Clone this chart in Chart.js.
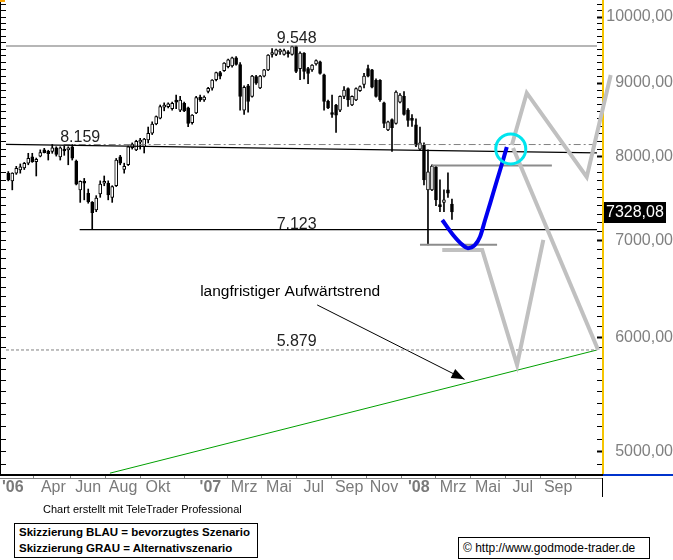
<!DOCTYPE html>
<html>
<head>
<meta charset="utf-8">
<script src="https://cdn.jsdelivr.net/npm/chart.js@4.4.1/dist/chart.umd.min.js"></script>
<style>
    html, body { margin: 0; padding: 0; background: #fff; }
    #wrap { position: relative; width: 673px; height: 560px; overflow: hidden; font-family: "Liberation Sans", Arial, sans-serif; }
    #chart { position: absolute; left: 0; top: 0; }
    .hinweis { position: absolute; font-size: 11px; color: #000; white-space: nowrap; }
    .kasten { position: absolute; border: 1px solid #000; background: #fff; white-space: nowrap; color: #000; }
</style>
</head>
<body>
<div id="wrap">
    <canvas id="chart" width="673" height="560"></canvas>
    <div class="hinweis" style="left:43px; top:503px;">Chart erstellt mit TeleTrader Professional</div>
    <div class="kasten" style="left:14px; top:523px; width:238px; height:33px; padding-left:4px; font-weight:bold; font-size:11.5px; line-height:16px;">Skizzierung BLAU = bevorzugtes Szenario<br>Skizzierung GRAU = Alternativszenario</div>
    <div class="kasten" style="left:458px; top:537px; width:186px; height:20px; padding-left:4px; font-size:12px; line-height:20px;">© http://www.godmode-trader.de</div>
</div>
<script>
// SMI Wochenkerzen, x = Tage seit 01.01.2006
const ersteWoche = 11;

const eroeffnung = [
    7795, 7700, 7795, 7835, 7860, 7920, 8000, 7940, 8010, 8090,
    8070, 8070, 8115, 8000, 8085, 8090, 8130, 7945, 7590, 7680,
    7549, 7440, 7350, 7540, 7670, 7670, 7500, 7640, 8000, 7840,
    7900, 8120, 8090, 8190, 8131, 8219, 8307, 8431, 8510, 8660,
    8667, 8640, 8740, 8620, 8715, 8650, 8450, 8580, 8800, 8760,
    8880, 8926, 9050, 9150, 9180, 9240, 9250, 9370, 9270, 8620,
    8960, 8810, 9095, 8930, 9100, 9190, 9420, 9420, 9460, 9420,
    9440, 9420, 9540, 9210, 9440, 9210, 9190, 9280, 9310, 9120,
    8740, 8570, 8690, 8620, 8810, 8920, 8690, 8760, 8890, 8980,
    9210, 9190, 9040, 9040, 8720, 8350, 8490, 8440, 8730, 8810,
    8620, 8490, 8420, 8100, 8150, 7590, 7590, 7870, 7400, 7440,
    7590, 7420
];
const hoch = [
    7815, 7800, 7880, 7910, 7930, 8046, 8046, 7985, 8090, 8110,
    8085, 8160, 8130, 8130, 8140, 8130, 8159, 7960, 7700, 7730,
    7600, 7450, 7520, 7700, 7760, 7700, 7640, 7980, 8020, 7920,
    8140, 8180, 8215, 8240, 8240, 8390, 8460, 8540, 8690, 8720,
    8720, 8730, 8830, 8810, 8730, 8660, 8560, 8810, 8830, 8820,
    8940, 9050, 9160, 9170, 9300, 9350, 9380, 9390, 9300, 8960,
    8980, 9110, 9110, 9110, 9200, 9420, 9510, 9500, 9500, 9500,
    9480, 9545, 9548, 9460, 9450, 9230, 9270, 9340, 9320, 9130,
    8760, 8830, 8700, 8820, 8950, 8930, 8820, 8930, 8960, 9140,
    9260, 9200, 9060, 9050, 8730, 8470, 8500, 8890, 8850, 8880,
    8640, 8560, 8500, 8390, 8180, 8090, 7900, 7880, 7712, 7590,
    7800, 7480
];
const tief = [
    7700, 7590, 7780, 7795, 7840, 7900, 7930, 7760, 8000, 8050,
    7960, 8046, 8010, 7960, 8020, 7900, 7960, 7650, 7440, 7470,
    7430, 7123, 7330, 7500, 7640, 7470, 7440, 7630, 7900, 7795,
    7890, 8100, 8080, 8100, 8050, 8180, 8290, 8420, 8500, 8610,
    8650, 8620, 8640, 8600, 8600, 8396, 8430, 8570, 8740, 8740,
    8860, 8900, 9030, 9060, 9170, 9220, 9230, 9260, 8620, 8560,
    8590, 8800, 8980, 8920, 9090, 9180, 9380, 9400, 9420, 9410,
    9380, 9410, 9150, 9050, 9060, 8990, 9170, 9260, 9130, 8620,
    8640, 8520, 8320, 8600, 8780, 8670, 8680, 8750, 8880, 8930,
    9090, 8930, 8800, 8740, 8380, 8340, 8070, 8430, 8720, 8550,
    8400, 8400, 8130, 8080, 7650, 6953, 7580, 7400, 7330, 7330,
    7500, 7240
];
const schluss = [
    7712, 7795, 7856, 7875, 7919, 7982, 7940, 7970, 8055, 8055,
    8040, 8115, 8030, 8115, 8075, 8095, 7985, 7660, 7695, 7670,
    7449, 7320, 7490, 7660, 7675, 7530, 7630, 7960, 7920, 7880,
    8130, 8165, 8200, 8200, 8229, 8307, 8431, 8530, 8667, 8670,
    8705, 8715, 8730, 8760, 8610, 8440, 8550, 8795, 8760, 8800,
    8926, 9044, 9150, 9100, 9290, 9340, 9370, 9270, 8810, 8940,
    8740, 9100, 9000, 9100, 9190, 9410, 9430, 9490, 9470, 9480,
    9430, 9540, 9170, 9440, 9170, 9140, 9260, 9330, 9140, 8740,
    8650, 8560, 8550, 8810, 8900, 8760, 8810, 8920, 8950, 9100,
    9100, 8940, 8810, 8760, 8440, 8460, 8380, 8870, 8830, 8560,
    8480, 8480, 8150, 8180, 7712, 7810, 7885, 7470, 7390, 7470,
    7550, 7328.08
];

// Zeitachse
const monatsTage = [19, 90, 151, 212, 273, 365, 424, 485, 546, 608, 669, 730, 790, 851, 912, 974];
const monatsTexte = ["'06", 'Apr', 'Jun', 'Aug', 'Okt', "'07", 'Mrz', 'Mai', 'Jul', 'Sep', 'Nov', "'08", 'Mrz', 'Mai', 'Jul', 'Sep'];
const preisTicks = [5000, 6000, 7000, 8000, 9000, 10000];

// Marken
const niveaus = [9548, 8159, 7123, 5879];
const niveauTexte = ['9.548', '8.159', '7.123', '5.879'];
const trendTage = [7, 1042];
const trendWerte = [8160, 8050];
const aufwaertsTage = [189, 1042];
const aufwaertsWerte = [4830, 5879];
const widerstandTage = [753, 963];
const widerstandWerte = [7890, 7890];
const tiefLinieTage = [732, 867];
const tiefLinieWerte = [6953, 6953];

// Skizzen
const blauTage = [771, 790, 807, 816, 828, 837, 846, 855, 867, 876, 884];
const blauWerte = [7234, 7063, 6949, 6916, 6949, 7039, 7234, 7432, 7710, 7922, 8127];
const grauATage = [893, 919, 1024, 1066];
const grauAWerte = [8153, 8859, 7747, 9116];
const grauBTage = [895, 1044, 1054, 1066];
const grauBWerte = [8115, 5879, 5879, 6754];
const grauCTage = [771, 841, 902, 948];
const grauCWerte = [6897, 6897, 5741, 7007];
const kreisTag = [891];
const kreisWert = [8102];
const pfeilTage = [552, 810];
const pfeilWerte = [6317, 5610];
const letzterKurs = 7328.08;

const yMin = 4816, yMax = 10275;
const xMin = 7, xMax = 1042;
const schrift = '"Liberation Sans", Arial, sans-serif';

const tage = schluss.map((_, i) => ersteWoche + 7 * i);
const punkte = (xs, ys) => xs.map((x, i) => ({ x: x, y: ys[i] }));
const hunderter = [];
for (let v = 4900; v <= 10200; v += 100) hunderter.push({ value: v });

function linie(xs, ys, farbe, breite, extra) {
    return Object.assign({
        type: 'line',
        data: punkte(xs, ys),
        borderColor: farbe,
        borderWidth: breite,
        pointRadius: 0,
        fill: false,
        tension: 0,
        order: 5
    }, extra || {});
}

// keine Randabstaende fuer Beschriftungen
function ohneRand(s) {
    s.paddingTop = 0; s.paddingBottom = 0; s.paddingLeft = 0; s.paddingRight = 0;
}

const beschriftung = {
    id: 'beschriftung',
    afterDatasetsDraw(chart) {
        const { ctx } = chart;
        const x = chart.scales.x, y = chart.scales.y;
        ctx.save();
        ctx.font = '16px ' + schrift;
        ctx.fillStyle = '#222';
        ctx.textAlign = 'center';
        ctx.textBaseline = 'alphabetic';
        const textTage = [516, 137, 516, 516];
        const abstand = [3, 3, 1, 4];
        niveaus.forEach((w, i) => {
            ctx.fillText(niveauTexte[i], x.getPixelForValue(textTage[i]), y.getPixelForValue(w) - abstand[i]);
        });
        ctx.font = '15.5px ' + schrift;
        ctx.fillStyle = '#000';
        ctx.textAlign = 'left';
        ctx.fillText('langfristiger Aufwärtstrend', x.getPixelForValue(347), y.getPixelForValue(6409));

        // Pfeilspitze am Ende der Pfeillinie
        const pfeil = chart.getDatasetMeta(chart.data.datasets.findIndex(d => d.label === 'Pfeil')).data;
        const a = pfeil[0], b = pfeil[1];
        const w = Math.atan2(b.y - a.y, b.x - a.x);
        ctx.fillStyle = '#000';
        ctx.beginPath();
        ctx.moveTo(b.x, b.y);
        ctx.lineTo(b.x - 13 * Math.cos(w) + 5 * Math.sin(w), b.y - 13 * Math.sin(w) - 5 * Math.cos(w));
        ctx.lineTo(b.x - 13 * Math.cos(w) - 5 * Math.sin(w), b.y - 13 * Math.sin(w) + 5 * Math.cos(w));
        ctx.closePath();
        ctx.fill();
        ctx.restore();
    },
    afterDraw(chart) {
        const { ctx, chartArea } = chart;
        const y = chart.scales.y;
        ctx.save();
        // Achsenrahmen
        ctx.fillStyle = '#000';
        ctx.fillRect(0, chartArea.bottom - 1, 603, 2);
        ctx.fillRect(0, 0, 1, chartArea.bottom);
        ctx.fillRect(602, chartArea.bottom + 3, 1, 19);
        ctx.fillStyle = '#808080';
        ctx.fillRect(0, chartArea.bottom + 3, 602, 1);
        ctx.fillStyle = '#0033cc';
        ctx.fillRect(603, chartArea.bottom - 1, 70, 2);
        ctx.fillStyle = '#f5a000';
        ctx.fillRect(0, 0, 5, 2);
        // letzter Kurs
        const py = Math.round(y.getPixelForValue(letzterKurs));
        ctx.fillStyle = '#000';
        ctx.fillRect(604, py - 10, 62, 21);
        ctx.fillStyle = '#fff';
        ctx.font = '16px ' + schrift;
        ctx.textAlign = 'left';
        ctx.textBaseline = 'middle';
        ctx.fillText(letzterKurs.toFixed(2).replace('.', ','), 606, py + 1);
        ctx.restore();
    }
};

new Chart(document.getElementById('chart'), {
    type: 'bar',
    data: {
        datasets: [
            {
                label: 'Docht',
                data: tage.map((d, i) => ({ x: d, y: [tief[i], hoch[i]] })),
                backgroundColor: '#000',
                barThickness: 1,
                grouped: false,
                order: 11
            },
            {
                label: 'Kerze',
                data: tage.map((d, i) => ({ x: d, y: [eroeffnung[i], schluss[i]] })),
                backgroundColor: schluss.map((c, i) => c >= eroeffnung[i] ? '#fff' : '#000'),
                borderColor: '#000',
                borderWidth: 1,
                borderSkipped: false,
                barThickness: 3,
                minBarLength: 2,
                grouped: false,
                order: 10
            },
            linie([xMin, xMax], [niveaus[0], niveaus[0]], '#6e6e6e', 1.2),
            linie(trendTage, trendWerte, '#000', 1.2),
            linie([108, xMax], [niveaus[1], niveaus[1]], '#808080', 1, { borderDash: [7, 3, 2, 3] }),
            linie([136, xMax], [niveaus[2], niveaus[2]], '#000', 1.2),
            linie([xMin, xMax], [niveaus[3], niveaus[3]], '#808080', 1, { borderDash: [3, 2] }),
            linie(aufwaertsTage, aufwaertsWerte, '#00a000', 1),
            linie(widerstandTage, widerstandWerte, '#8c8c8c', 2),
            linie(tiefLinieTage, tiefLinieWerte, '#8c8c8c', 2),
            linie(pfeilTage, pfeilWerte, '#000', 1, { label: 'Pfeil' }),
            linie(grauCTage, grauCWerte, '#c0c0c0', 4, { clip: false, order: 4 }),
            linie(grauBTage, grauBWerte, '#c0c0c0', 4, { clip: false, order: 4 }),
            linie(grauATage, grauAWerte, '#c0c0c0', 4, { clip: false, order: 4 }),
            linie(blauTage, blauWerte, '#0000f0', 4, { cubicInterpolationMode: 'monotone', order: 2 }),
            linie(kreisTag, kreisWert, '#00e5ee', 0, {
                showLine: false,
                pointRadius: 15,
                pointBorderWidth: 3,
                pointBorderColor: '#00e5ee',
                pointBackgroundColor: 'rgba(0,0,0,0)',
                order: 1
            })
        ]
    },
    options: {
        responsive: false,
        animation: false,
        layout: { autoPadding: false, padding: { left: 0, right: 0, top: 0, bottom: 60 } },
        plugins: { legend: { display: false }, tooltip: { enabled: false } },
        scales: {
            x: {
                type: 'linear',
                min: xMin,
                max: xMax,
                offset: false,
                afterBuildTicks: s => { s.ticks = monatsTage.map(v => ({ value: v })); },
                afterFit: s => { s.height = 25; ohneRand(s); },
                grid: { drawOnChartArea: false, drawTicks: true, tickLength: 3, color: '#808080' },
                border: { display: true, color: '#000', width: 2 },
                ticks: {
                    autoSkip: false,
                    maxRotation: 0,
                    padding: 0,
                    color: '#7a7a7a',
                    font: c => ({ family: schrift, size: 16, weight: monatsTexte[c.index] && monatsTexte[c.index][0] === "'" ? 'bold' : 'normal' }),
                    callback: (v, i) => monatsTexte[i]
                }
            },
            yLinks: {
                type: 'logarithmic',
                position: 'left',
                min: yMin,
                max: yMax,
                afterBuildTicks: s => { s.ticks = hunderter.slice(); },
                afterFit: s => { s.width = 6; ohneRand(s); },
                ticks: { display: false },
                grid: { drawOnChartArea: false, drawTicks: true, tickLength: 5, color: '#000' },
                border: { display: false }
            },
            yStriche: {
                type: 'logarithmic',
                position: 'right',
                weight: 0,
                min: yMin,
                max: yMax,
                afterBuildTicks: s => { s.ticks = hunderter.slice(); },
                afterFit: s => { s.width = 6; ohneRand(s); },
                ticks: { display: false },
                grid: {
                    drawOnChartArea: false,
                    drawTicks: true,
                    tickLength: 5,
                    color: '#000',
                    tickWidth: c => (c.tick && c.tick.value % 1000 === 0) ? 2 : 1
                },
                border: { display: false }
            },
            y: {
                type: 'logarithmic',
                position: 'right',
                weight: 1,
                min: yMin,
                max: yMax,
                afterBuildTicks: s => { s.ticks = preisTicks.map(v => ({ value: v })); },
                afterFit: s => { s.width = 70; ohneRand(s); },
                grid: { drawOnChartArea: false, drawTicks: false },
                border: { display: true, color: '#f5c400', width: 2 },
                ticks: {
                    padding: 5,
                    crossAlign: 'far',
                    color: '#808080',
                    font: { family: schrift, size: 16 },
                    callback: v => Number(v).toFixed(2).replace('.', ',')
                }
            }
        }
    },
    plugins: [beschriftung]
});
</script>
</body>
</html>
